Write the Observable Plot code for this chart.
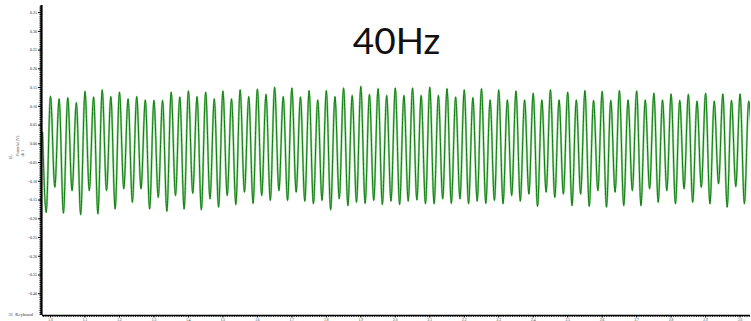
<!DOCTYPE html>
<html>
<head>
<meta charset="utf-8">
<script src="https://cdn.jsdelivr.net/npm/d3@7"></script>
<script src="https://cdn.jsdelivr.net/npm/@observablehq/plot@0.6"></script>
<style>
  html, body { margin: 0; padding: 0; background: #fff; }
  #chart svg { display: block; }
</style>
</head>
<body>
<div id="chart"></div>
<script>
// 40 Hz steady-state response: one sample at every crest and every trough.
const title = "40Hz";
const channelLabel = "31  Keyboard";
const yTitleLines = ["EL", "Potential (V)", "ch 1"];

const stimulusHz = 40;
const firstCrestTime = 1.0;          // s
const timeDomain = [0.9768, 3.0302]; // s
const leadIn = { t: 0.977, v: 0.03 };

// crest amplitudes (V), one per cycle
const crests = [
  0.127, 0.120, 0.123, 0.110, 0.140, 0.125, 0.144, 0.126, 0.138, 0.120, 0.126, 0.117, 0.116, 0.116, 0.138, 0.125, 0.141,
  0.126, 0.138, 0.120, 0.141, 0.120, 0.144, 0.126, 0.146, 0.132, 0.151, 0.126, 0.149, 0.125, 0.142, 0.117,
  0.142, 0.126, 0.149, 0.129, 0.153, 0.132, 0.147, 0.129, 0.149, 0.129, 0.149, 0.129, 0.151, 0.129, 0.147, 0.125,
  0.144, 0.123, 0.147, 0.117, 0.144, 0.117, 0.141, 0.117, 0.135, 0.117, 0.144, 0.117, 0.138, 0.117, 0.142, 0.116,
  0.140, 0.116, 0.142, 0.117, 0.141, 0.117, 0.135, 0.117, 0.133, 0.116, 0.132, 0.114, 0.135, 0.114, 0.133, 0.116, 0.133, 0.114
];

// trough amplitudes (V); the first one precedes the first crest
const troughs = [
  -0.183, -0.116, -0.185, -0.125, -0.189, -0.125, -0.187, -0.125, -0.174, -0.120, -0.156, -0.120, -0.174, -0.143, -0.180, -0.138, -0.174,
  -0.132, -0.176, -0.147, -0.169, -0.138, -0.162, -0.129, -0.159, -0.138, -0.151, -0.125, -0.151, -0.129, -0.153, -0.160, -0.151,
  -0.176, -0.147, -0.165, -0.156, -0.159, -0.151, -0.162, -0.153, -0.162, -0.153, -0.150, -0.160, -0.160, -0.147, -0.159, -0.147,
  -0.160, -0.153, -0.159, -0.151, -0.160, -0.138, -0.153, -0.134, -0.167, -0.129, -0.143, -0.134, -0.165, -0.134, -0.167, -0.125,
  -0.169, -0.129, -0.165, -0.125, -0.165, -0.120, -0.156, -0.125, -0.160, -0.120, -0.156, -0.116, -0.160, -0.107, -0.169, -0.114, -0.160,
  -0.120
];

const yTickValues = [0.35, 0.30, 0.25, 0.20, 0.15, 0.10, 0.05, 0.00, -0.05, -0.10, -0.15, -0.20, -0.25, -0.30, -0.35, -0.40];
const xTickValues = [1.0, 1.1, 1.2, 1.3, 1.4, 1.5, 1.6, 1.7, 1.8, 1.9, 2.0, 2.1, 2.2, 2.3, 2.4, 2.5, 2.6, 2.7, 2.8, 2.9, 3.0];
const yDomain = [-0.458, 0.369];

// assemble the trace in time order: trough, crest, trough, ...
const period = 1 / stimulusHz;
const trace = [leadIn];
troughs.forEach((v, i) => {
  const k = i - 1;
  trace.push({ t: firstCrestTime + k * period + period / 2, v });
  if (i < crests.length) trace.push({ t: firstCrestTime + i * period, v: crests[i] });
});
trace.sort((a, b) => a.t - b.t);

const yMinor = d3.range(-455, 370, 5).map(d => d / 1000);
const xMinor = d3.range(0, 31 * 15).map(i => 0.98 + i * (0.1 / 15)).filter(t => t >= timeDomain[0] && t <= timeDomain[1]);

const serif = "Liberation Serif";

const chart = Plot.plot({
  width: 751,
  height: 321,
  marginLeft: 42,
  marginRight: 1,
  marginTop: 5,
  marginBottom: 6,
  style: { background: "#fff", overflow: "visible" },
  x: { domain: timeDomain, axis: null },
  y: { domain: yDomain, axis: null },
  marks: [
    // light trace underneath, dark trace on top
    Plot.line(trace, { x: "t", y: "v", stroke: "#9ad39a", strokeWidth: 2.2, curve: "monotone-x", clip: true }),
    Plot.line(trace, { x: "t", y: "v", stroke: "#0a7d0a", strokeWidth: 1, curve: "monotone-x", clip: true }),

    // left axis: dense ruler ticks plus labelled major ticks
    Plot.axisY({ ticks: yMinor, tickSize: 2.5, tickFormat: () => "", label: null, stroke: "#000", strokeOpacity: 1 }),
    Plot.axisY({ ticks: yTickValues, tickSize: 4, tickPadding: 1.5, tickFormat: d3.format(".2f"), label: null,
                 fontSize: 4, fontFamily: serif, fill: "#222", stroke: "#000", strokeOpacity: 1 }),
    Plot.ruleX([timeDomain[0]], { stroke: "#000", strokeWidth: 2.2, dx: -1 }),

    // bottom axis
    Plot.axisX({ ticks: xMinor, tickSize: 1.8, tickFormat: () => "", label: null, stroke: "#000", strokeOpacity: 1 }),
    Plot.axisX({ ticks: xTickValues, tickSize: 2.5, tickPadding: 0, tickFormat: d3.format(".1f"), label: null,
                 fontSize: 3.6, fontFamily: serif, fill: "#333", stroke: "#000", strokeOpacity: 1 }),
    Plot.ruleY([yDomain[0]], { stroke: "#000", strokeWidth: 1.6 }),

    // headline
    Plot.text([title], { frameAnchor: "top", lineAnchor: "top", dy: 22, fontSize: 37,
                         fontFamily: "Lato", fill: "#111", text: d => d }),

    // channel name
    Plot.text([channelLabel], { frameAnchor: "bottom-left", textAnchor: "start", lineAnchor: "bottom",
                                dx: -34, dy: 0, fontSize: 4.5, fontFamily: serif, fill: "#333", text: d => d }),

    // rotated y-axis title
    Plot.text([yTitleLines[0]], { frameAnchor: "left", rotate: -90, dx: -32, dy: -1, fontSize: 4,
                                  fontFamily: serif, fill: "#333", text: d => d }),
    Plot.text([yTitleLines[1]], { frameAnchor: "left", rotate: -90, dx: -25, dy: -4, fontSize: 4,
                                  fontFamily: serif, fill: "#333", text: d => d }),
    Plot.text([yTitleLines[2]], { frameAnchor: "left", rotate: -90, dx: -20, dy: -4, fontSize: 4,
                                  fontFamily: serif, fill: "#333", text: d => d })
  ]
});

document.getElementById("chart").appendChild(chart);
</script>
</body>
</html>
